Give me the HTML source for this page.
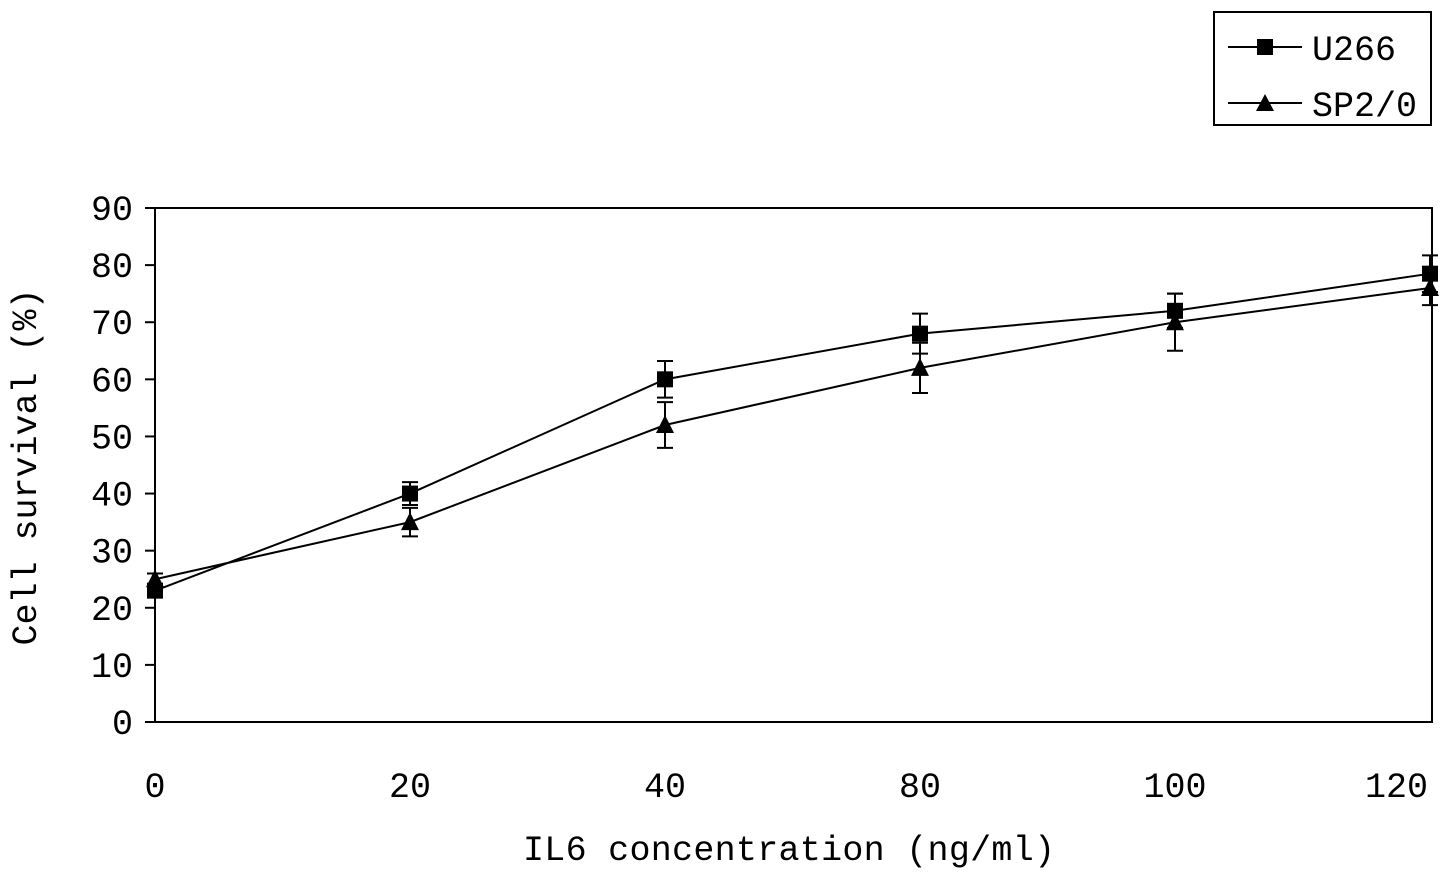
<!DOCTYPE html>
<html><head><meta charset="utf-8"><style>
html,body{margin:0;padding:0;background:#fff;}
svg{display:block;}
text{font-family:"Liberation Mono","Noto Sans CJK SC",monospace;fill:#000;}
</style></head><body>
<svg id="chart" width="1454" height="878" viewBox="0 0 1454 878">
<rect x="155" y="208" width="1277" height="514" fill="none" stroke="#000" stroke-width="2"/>
<g id="yaxis"></g>
<g id="xaxis"></g>
<g id="series"></g>
<text x="1055" y="860" text-anchor="end" font-size="35" textLength="532">IL6 concentration (ng/ml)</text>
<text transform="translate(36,467) rotate(-90)" text-anchor="middle" font-size="35">Cell survival (%)</text>
<g>
<rect x="1214" y="12" width="217" height="113" fill="#fff" stroke="#000" stroke-width="2"/>
<g>
<line x1="1228" y1="47" x2="1302" y2="47" stroke="#000" stroke-width="2"/>
<rect x="1257" y="39" width="16" height="16" fill="#000"/>
<text x="1312" y="60" font-size="35">U266</text></g>
<g>
<line x1="1228" y1="103" x2="1302" y2="103" stroke="#000" stroke-width="2"/>
<polygon points="1265,94 1274,111 1256,111" fill="#000"/>
<text x="1312" y="116" font-size="35">SP2/0</text></g>
</g>
</svg>
<script>
const categories=["0","20","40","80","100","120"];
const yTicks=[0,10,20,30,40,50,60,70,80,90];
const u266=[23,40,60,68,72,78.5];
const u266Err=[1,2,3.2,3.5,3,3.2];
const sp20=[25,35,52,62,70,76];
const sp20Err=[1,2.5,4,4.4,5,3];
const NS="http://www.w3.org/2000/svg";
const X0=155,X1=1430,Y0=722,Y1=208,YMAX=90;
function xs(i){return X0+(X1-X0)*i/(categories.length-1);}
function ys(v){return Y0-(Y0-Y1)*v/YMAX;}
function mk(tag,attrs,parent){const e=document.createElementNS(NS,tag);for(const k in attrs)e.setAttribute(k,attrs[k]);parent.appendChild(e);return e;}
const ya=document.getElementById('yaxis'),xa=document.getElementById('xaxis'),sg=document.getElementById('series');
yTicks.forEach(t=>{
 const l=mk('line',{x1:X0-10,x2:X0,y1:ys(t),y2:ys(t),stroke:'#000','stroke-width':2},ya);
 
 
 const tx=mk('text',{x:X0-22,y:ys(t)+12,'text-anchor':'end','font-size':35},ya);
 tx.textContent=t;
 
 
});
categories.forEach((c,i)=>{
 const last=i===categories.length-1;
 const tx=mk('text',{x:last?X1-2:xs(i),y:797,'text-anchor':last?'end':'middle','font-size':35},xa);
 tx.textContent=c;
 
 
});
function drawSeries(vals,errs,shape,name){
 const g=mk('g',{},sg);
 
 
 mk('polyline',{points:vals.map((v,i)=>xs(i)+','+ys(v)).join(' '),fill:'none',stroke:'#000','stroke-width':2},g);
 vals.forEach((v,i)=>{
  const x=xs(i),y=ys(v),e=errs[i];
  const eb=mk('path',{d:`M${x},${ys(v+e)}V${ys(v-e)}M${x-8},${ys(v+e)}H${x+8}M${x-8},${ys(v-e)}H${x+8}`,stroke:'#000','stroke-width':2,fill:'none'},g);
  
  
  let m;
  if(shape==='sq') m=mk('rect',{x:x-8,y:y-8,width:16,height:16,fill:'#000'},g);
  else m=mk('polygon',{points:`${x},${y-10} ${x+9},${y+8} ${x-9},${y+8}`,fill:'#000'},g);
  
  
 });
}
drawSeries(sp20,sp20Err,'tri','series-sp20');
drawSeries(u266,u266Err,'sq','series-u266');
</script>
</body></html>
